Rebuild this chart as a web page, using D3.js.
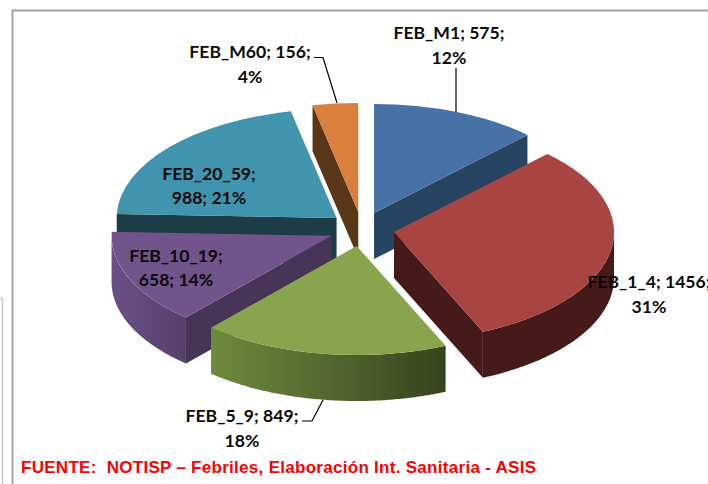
<!DOCTYPE html>
<html><head><meta charset="utf-8">
<script src="https://cdn.jsdelivr.net/npm/d3@7/dist/d3.min.js"></script>
<style>html,body{margin:0;padding:0;background:#fff;overflow:hidden}svg{display:block}</style>
</head><body><svg id="c" width="708" height="484"></svg>
<script>
const categories = ["FEB_M1","FEB_1_4","FEB_5_9","FEB_10_19","FEB_20_59","FEB_M60"];
const values = [575,1456,849,658,988,156];
const percents = ["12%","31%","18%","14%","21%","4%"];
const topColors = ["#4672a6","#a84442","#88a54e","#72548c","#4094ad","#d9813c"];
const wallColors = ["#274463","#451a18","#3c4a1e","#463557","#1c3d48","#5a3619"];
const curveStops = [
  null,
  [["0%","#451a18"],["100%","#451a18"]],
  [["0%","#35431c"],["50%","#55672f"],["100%","#6d8b3e"]],
  [["0%","#56416c"],["100%","#6a5085"]],
  null, null];
const labelLines = [
  ["FEB_M1; 575;","12%"],["FEB_1_4; 1456;","31%"],["FEB_5_9; 849;","18%"],
  ["FEB_10_19;","658; 14%"],["FEB_20_59;","988; 21%"],["FEB_M60; 156;","4%"]];
const labelAnchors = [[449,39],[649,288],[242,422],[176,262],[209,180],[250,58]];
const footer = "FUENTE:  NOTISP – Febriles, Elaboración Int. Sanitaria - ASIS";

const W=708,H=484,cx=361.7,cy=229,rx=220,ry=109,depth=46,ex=32.8,ey=17.2;
const svg=d3.select("#c");
const defs=svg.append("defs");

svg.append("path").attr("d","M12.5 484V10.5H708").attr("fill","none").attr("stroke","#a3a3a3").attr("stroke-width",2);
svg.append("path").attr("d","M0 298.5H2.5V484").attr("fill","none").attr("stroke","#c8c8c8").attr("stroke-width",1.5);

const pie=d3.pie().sort(null).value(d=>d);
const arcs=pie(values);
const px=d3.scaleLinear().domain([-1,1]).range([-rx,rx]);
const py=d3.scaleLinear().domain([-1,1]).range([-ry,ry]);
const arcGen=d3.arc().innerRadius(0).outerRadius(1);
const line=d3.line();

function apex(a){const m=(a.startAngle+a.endAngle)/2;return [cx+ex*Math.sin(m),cy-ey*Math.cos(m)];}
function rim(o,t){return [o[0]+px(Math.sin(t)),o[1]+py(-Math.cos(t))];}

// back-to-front painting order
const order=[5,4,0,3,1,2];
order.forEach(i=>{
  const a=arcs[i],o=apex(a),g=svg.append("g");
  const p0=rim(o,a.startAngle),p1=rim(o,a.endAngle);
  const wall=(p)=>[o,p,[p[0],p[1]+depth],[o[0],o[1]+depth]];
  if(Math.sin(a.startAngle)<0) g.append("path").attr("d",line(wall(p0))+"Z").attr("fill",wallColors[i]);
  if(Math.sin(a.endAngle)>0) g.append("path").attr("d",line(wall(p1))+"Z").attr("fill",wallColors[i]);
  const s=Math.max(a.startAngle,Math.PI/2),e=Math.min(a.endAngle,3*Math.PI/2);
  if(e>s){
    const ts=d3.range(s,e,0.01).concat([e]);
    const top=ts.map(t=>rim(o,t));
    const bot=ts.map(t=>{const p=rim(o,t);return [p[0],p[1]+depth];}).reverse();
    let fill=wallColors[i];
    if(curveStops[i]){
      const x0=d3.min(top,d=>d[0]),x1=d3.max(top,d=>d[0]);
      const id="g"+i;
      const lg=defs.append("linearGradient").attr("id",id).attr("gradientUnits","userSpaceOnUse")
        .attr("x1",x1).attr("x2",x0).attr("y1",0).attr("y2",0);
      curveStops[i].forEach(d=>lg.append("stop").attr("offset",d[0]).attr("stop-color",d[1]));
      fill=`url(#${id})`;
    }
    g.append("path").attr("d",line(top.concat(bot))+"Z").attr("fill",fill);
  }
  g.append("path").attr("d",arcGen(a))
   .attr("transform",`translate(${o[0]},${o[1]}) scale(${rx},${ry})`)
   .attr("fill",topColors[i]);
});

const leaders=[[[456,68],[456,112]],[[302,421],[312,421],[323,400]],[[314,57.5],[323,57.5],[337,103]]];
leaders.forEach(l=>svg.append("path").attr("d",line(l)).attr("fill","none").attr("stroke","#000").attr("stroke-width",1.2));

const labels=svg.append("g").attr("font-family","Lato").attr("font-weight",700).attr("font-size",17.6).attr("fill","#0a0a0a").attr("text-anchor","middle");
labelLines.forEach((ls,i)=>ls.forEach((t,j)=>{
  labels.append("text").attr("x",labelAnchors[i][0]).attr("y",labelAnchors[i][1]+j*(i===3||i===4?23.5:25)).text(t);
}));

svg.append("text").attr("x",21).attr("y",473).style("white-space","pre")
 .attr("font-family","Liberation Sans").attr("font-weight",700).attr("font-size",17)
 .attr("fill","#fb0000").attr("textLength",515).attr("lengthAdjust","spacing").text(footer);
</script></body></html>
